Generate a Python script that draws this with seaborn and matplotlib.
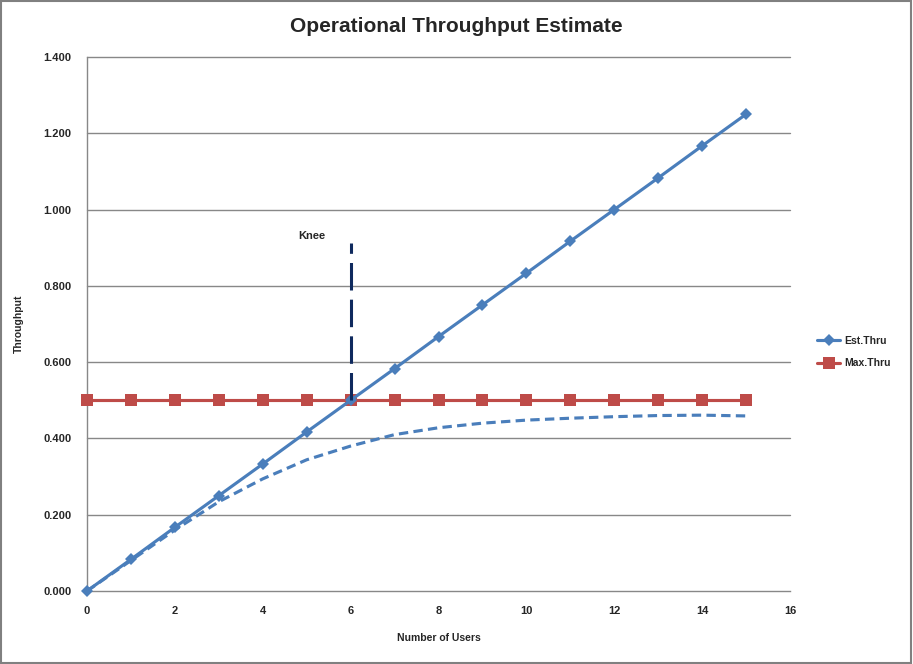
import matplotlib
matplotlib.use("Agg")
import matplotlib.pyplot as plt
import seaborn as sns
import pandas as pd

users = list(range(16))
est_thru = [0.000, 0.083, 0.167, 0.250, 0.333, 0.417, 0.500, 0.583, 0.667,
            0.750, 0.833, 0.917, 1.000, 1.083, 1.167, 1.250]
max_thru = [0.5] * 16
actual_thru = [0.000, 0.080, 0.160, 0.234, 0.294, 0.344, 0.380, 0.410, 0.428,
               0.440, 0.448, 0.453, 0.457, 0.460, 0.461, 0.459]
knee_x = [6, 6]
knee_y = [0.5, 0.913]
yticks = [0.0, 0.2, 0.4, 0.6, 0.8, 1.0, 1.2, 1.4]
xticks = [0, 2, 4, 6, 8, 10, 12, 14, 16]

df = pd.DataFrame({"users": users, "est": est_thru, "max": max_thru, "act": actual_thru})

sns.set_theme(style="white")
plt.rcParams["font.family"] = ["Liberation Sans", "DejaVu Sans"]

fig = plt.figure(figsize=(9.13, 6.64), dpi=100)
ax = fig.add_axes([87/913, 1 - 591/664, (790-87)/913, (591-57)/664])

blue = "#4A7EBB"
red = "#BE4B48"
grid = "#888888"

for y in yticks[1:]:
    ax.axhline(y, color=grid, lw=1.0, zorder=0)

lw = 2.25
sns.lineplot(data=df, x="users", y="act", ax=ax, color=blue, lw=lw,
             linestyle=(0, (3.0, 1.7)), zorder=2)
sns.lineplot(data=df, x="users", y="max", ax=ax, color=red, lw=lw,
             marker="s", markersize=8.5, markeredgewidth=0, label="Max.Thru", zorder=3)
sns.lineplot(data=df, x="users", y="est", ax=ax, color=blue, lw=lw,
             marker="D", markersize=6.5, markeredgewidth=0, label="Est.Thru", zorder=4)
ax.plot(knee_x, knee_y, color="#0F2A5E", lw=2.2, linestyle=(0, (9, 3)), zorder=5)
ax.text(5.12, 0.93, "Knee", fontsize=8, fontweight="bold", ha="center", va="center")
for ln in ax.lines:
    ln.set_clip_on(False)

ax.set_xlim(0, 16)
ax.set_ylim(0, 1.4)
ax.set_xticks(xticks)
ax.set_yticks(yticks)
ax.set_yticklabels([f"{v:.3f}" for v in yticks])
ax.tick_params(axis="both", which="major", direction="out", length=5, width=1,
               color=grid, labelsize=8, pad=6)
for lab in ax.get_xticklabels() + ax.get_yticklabels():
    lab.set_fontweight("bold")
for s in ["top", "right"]:
    ax.spines[s].set_visible(False)
for s in ["left", "bottom"]:
    ax.spines[s].set_color(grid)
    ax.spines[s].set_linewidth(1.0)

ax.set_xlabel("Number of Users", fontsize=7.5, fontweight="bold", labelpad=12)
ax.set_ylabel("Throughput", fontsize=7.5, fontweight="bold", labelpad=14)

ax.get_legend().remove()
h, l = ax.get_legend_handles_labels()
order = [l.index("Est.Thru"), l.index("Max.Thru")]
fig.legend([h[i] for i in order], [l[i] for i in order], loc="center left",
           bbox_to_anchor=(0.885, 0.47), frameon=False,
           handlelength=2.2, labelspacing=1.2, handletextpad=0.4,
           prop={"weight": "bold", "size": 7.5})

fig.text(0.5, 1 - 27/664, "Operational Throughput Estimate", ha="center", va="center",
         fontsize=15, fontweight="bold")

border = plt.Rectangle((0.001, 0.001), 0.997, 0.997, transform=fig.transFigure,
                       fill=False, edgecolor="#808080", lw=1.5)
fig.patches.append(border)

fig.savefig("out.png", dpi=100)
